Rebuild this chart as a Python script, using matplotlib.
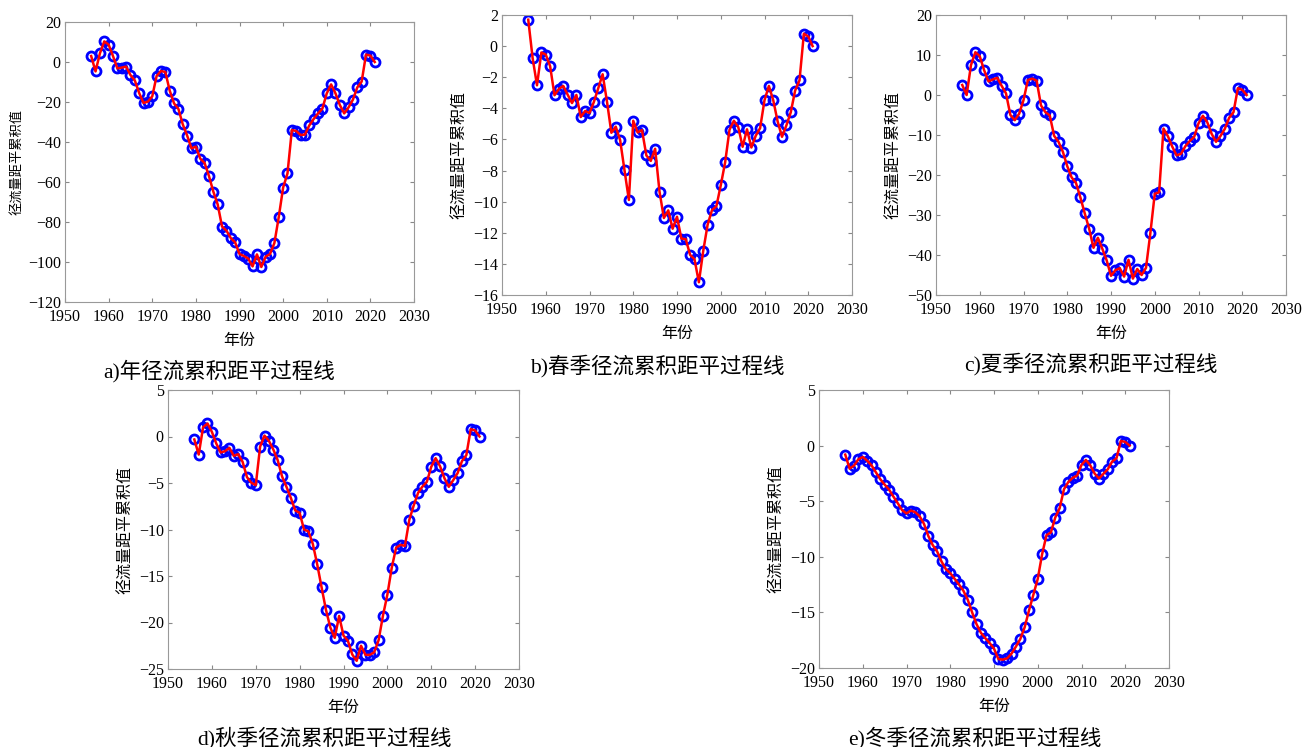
import numpy as np
import matplotlib
matplotlib.use("Agg")
import matplotlib.pyplot as plt

plt.rcParams['font.family'] = ['Liberation Serif', 'Noto Sans CJK SC']
plt.rcParams['axes.unicode_minus'] = True

years = np.arange(1956, 2022)

# 年径流
annual = [3, -4.7, 4.3, 10.3, 8.7, 3, -3.2, -2.8, -2.3, -6.5,
          -9.2, -15.5, -20.5, -19.8, -17.2, -7, -4.5, -5, -14.3, -20.7,
          -23.5, -31.2, -36.8, -43.2, -42.3, -48.3, -50.5, -57, -64.8, -71.2,
          -82.3, -84.3, -88, -90.2, -96, -97, -98.3, -102.2, -96.2, -102.5,
          -97.3, -96, -90.5, -77.5, -62.8, -55.7, -34, -34.5, -36.5, -36.3,
          -31.7, -28.5, -25.7, -23.3, -15.7, -11.2, -15.7, -21.5, -25.7, -22.7,
          -18.8, -12.7, -9.8, 3.7, 3.2, 0]

# 春季
spring = [1.7, -0.77, -2.52, -0.41, -0.54, -1.29, -3.16, -2.75, -2.56, -3.12,
          -3.66, -3.14, -4.56, -4.17, -4.3, -3.59, -2.71, -1.81, -3.57, -5.57,
          -5.18, -6.04, -7.98, -9.89, -4.8, -5.55, -5.4, -7.03, -7.38, -6.6,
          -9.35, -11.05, -10.56, -11.74, -10.97, -12.37, -12.41, -13.42, -13.7, -15.18,
          -13.16, -11.48, -10.54, -10.3, -8.95, -7.48, -5.38, -4.8, -5.2, -6.47,
          -5.35, -6.52, -5.76, -5.27, -3.48, -2.56, -3.48, -4.84, -5.83, -5.1,
          -4.26, -2.86, -2.2, 0.8, 0.62, 0]

# 夏季
summer = [2.5, 0, 7.5, 10.7, 9.7, 6.2, 3.4, 3.9, 4.3, 2.3,
          0.4, -5, -6.3, -4.7, -1.3, 3.75, 4.1, 3.6, -2.6, -4.3,
          -5.1, -10.2, -11.7, -14.2, -17.8, -20.6, -22, -25.6, -29.6, -33.4,
          -38.2, -35.7, -38.4, -41.3, -45.2, -43.8, -43.3, -45.4, -41.2, -45.9,
          -43.5, -45, -43.2, -34.5, -24.7, -24.3, -8.4, -10.3, -12.9, -15.1,
          -14.7, -12.8, -11.5, -10.5, -7.1, -5.2, -6.8, -9.7, -11.7, -10.3,
          -8.5, -5.7, -4.3, 1.7, 1.3, 0]

# 秋季
autumn = [-0.32, -1.94, 1.0, 1.4, 0.5, -0.75, -1.72, -1.58, -1.22, -2.08,
          -1.9, -2.72, -4.37, -4.98, -5.23, -1.08, 0.1, -0.47, -1.4, -2.54,
          -4.3, -5.41, -6.6, -7.96, -8.2, -10, -10.2, -11.54, -13.73, -16.2,
          -18.64, -20.54, -21.65, -19.3, -21.4, -21.97, -23.44, -24.12, -22.5, -23.48,
          -23.48, -23.2, -21.9, -19.25, -17.0, -14.1, -11.94, -11.65, -11.76, -8.96,
          -7.42, -6.06, -5.38, -4.87, -3.26, -2.33, -3.19, -4.48, -5.41, -4.7,
          -3.94, -2.65, -2.0, 0.79, 0.65, 0]

# 冬季
winter = [-0.81, -2.07, -1.8, -1.23, -1.02, -1.35, -1.77, -2.4, -3.02, -3.5,
          -3.95, -4.58, -5.18, -5.81, -6.1, -5.84, -5.99, -6.35, -7.04, -8.14,
          -8.95, -9.52, -10.42, -11.11, -11.47, -11.98, -12.49, -13.05, -13.86, -15.0,
          -16.05, -16.83, -17.31, -17.75, -18.26, -19.19, -19.25, -19.13, -18.71, -18.08,
          -17.4, -16.35, -14.82, -13.41, -11.98, -9.76, -8.05, -7.81, -6.47, -5.63,
          -3.92, -3.26, -2.9, -2.69, -1.74, -1.29, -1.77, -2.51, -2.96, -2.54,
          -2.13, -1.44, -1.14, 0.42, 0.33, 0]

captions = ['a)年径流累积距平过程线', 'b)春季径流累积距平过程线', 'c)夏季径流累积距平过程线',
            'd)秋季径流累积距平过程线', 'e)冬季径流累积距平过程线']
ylims = [(-120, 20), (-16, 2), (-50, 20), (-25, 5), (-20, 5)]
ysteps = [20, 2, 10, 5, 5]

W, H = 1305, 747
# axes boxes in pixels: left, top, right, bottom
boxes = [(65, 22, 414, 302), (502, 15, 852, 295), (936, 15, 1286, 295),
         (168, 390, 519, 669), (819, 390, 1169, 668)]
cap_y = [371, 366, 364, 738, 738]
cap_x = [219, 657, 1091, 324, 975]
ylab_size = [9.5, 11.5, 11.5, 11.5, 11.5]

fig = plt.figure(figsize=(W / 100, H / 100), dpi=100)

for i, data in enumerate([annual, spring, summer, autumn, winter]):
    l, t, r, b = boxes[i]
    ax = fig.add_axes([l / W, 1 - b / H, (r - l) / W, (b - t) / H])
    ax.plot(years, data, 'o', ms=6.5, mfc='none', mec='#0000ff', mew=2, zorder=2)
    ax.plot(years, data, '-', color='#ff0000', lw=1.8, zorder=3)
    ax.set_xlim(1950, 2030)
    ax.set_ylim(*ylims[i])
    ax.set_xticks(np.arange(1950, 2031, 10))
    lo, hi = ylims[i]
    ax.set_yticks(np.arange(lo, hi + 0.01, ysteps[i]))
    ax.tick_params(direction='in', top=True, right=True, labelsize=11.5,
                   length=3, color='#888888')
    ax.tick_params(axis='x', pad=5)
    ax.tick_params(axis='y', pad=3)
    for s in ax.spines.values():
        s.set_color('#999999')
        s.set_linewidth(0.8)
    ax.set_xlabel('年份', fontsize=11.5, labelpad=5, family=['Noto Sans CJK SC'])
    ax.set_ylabel('径流量距平累积值', fontsize=ylab_size[i], labelpad=3,
                  family=['Noto Sans CJK SC'])
    fig.text(cap_x[i] / W, 1 - cap_y[i] / H, captions[i], ha='center', va='center',
             fontsize=15.5, family=['Liberation Serif', 'Noto Sans CJK SC'])

fig.savefig('out.png', dpi=100)
